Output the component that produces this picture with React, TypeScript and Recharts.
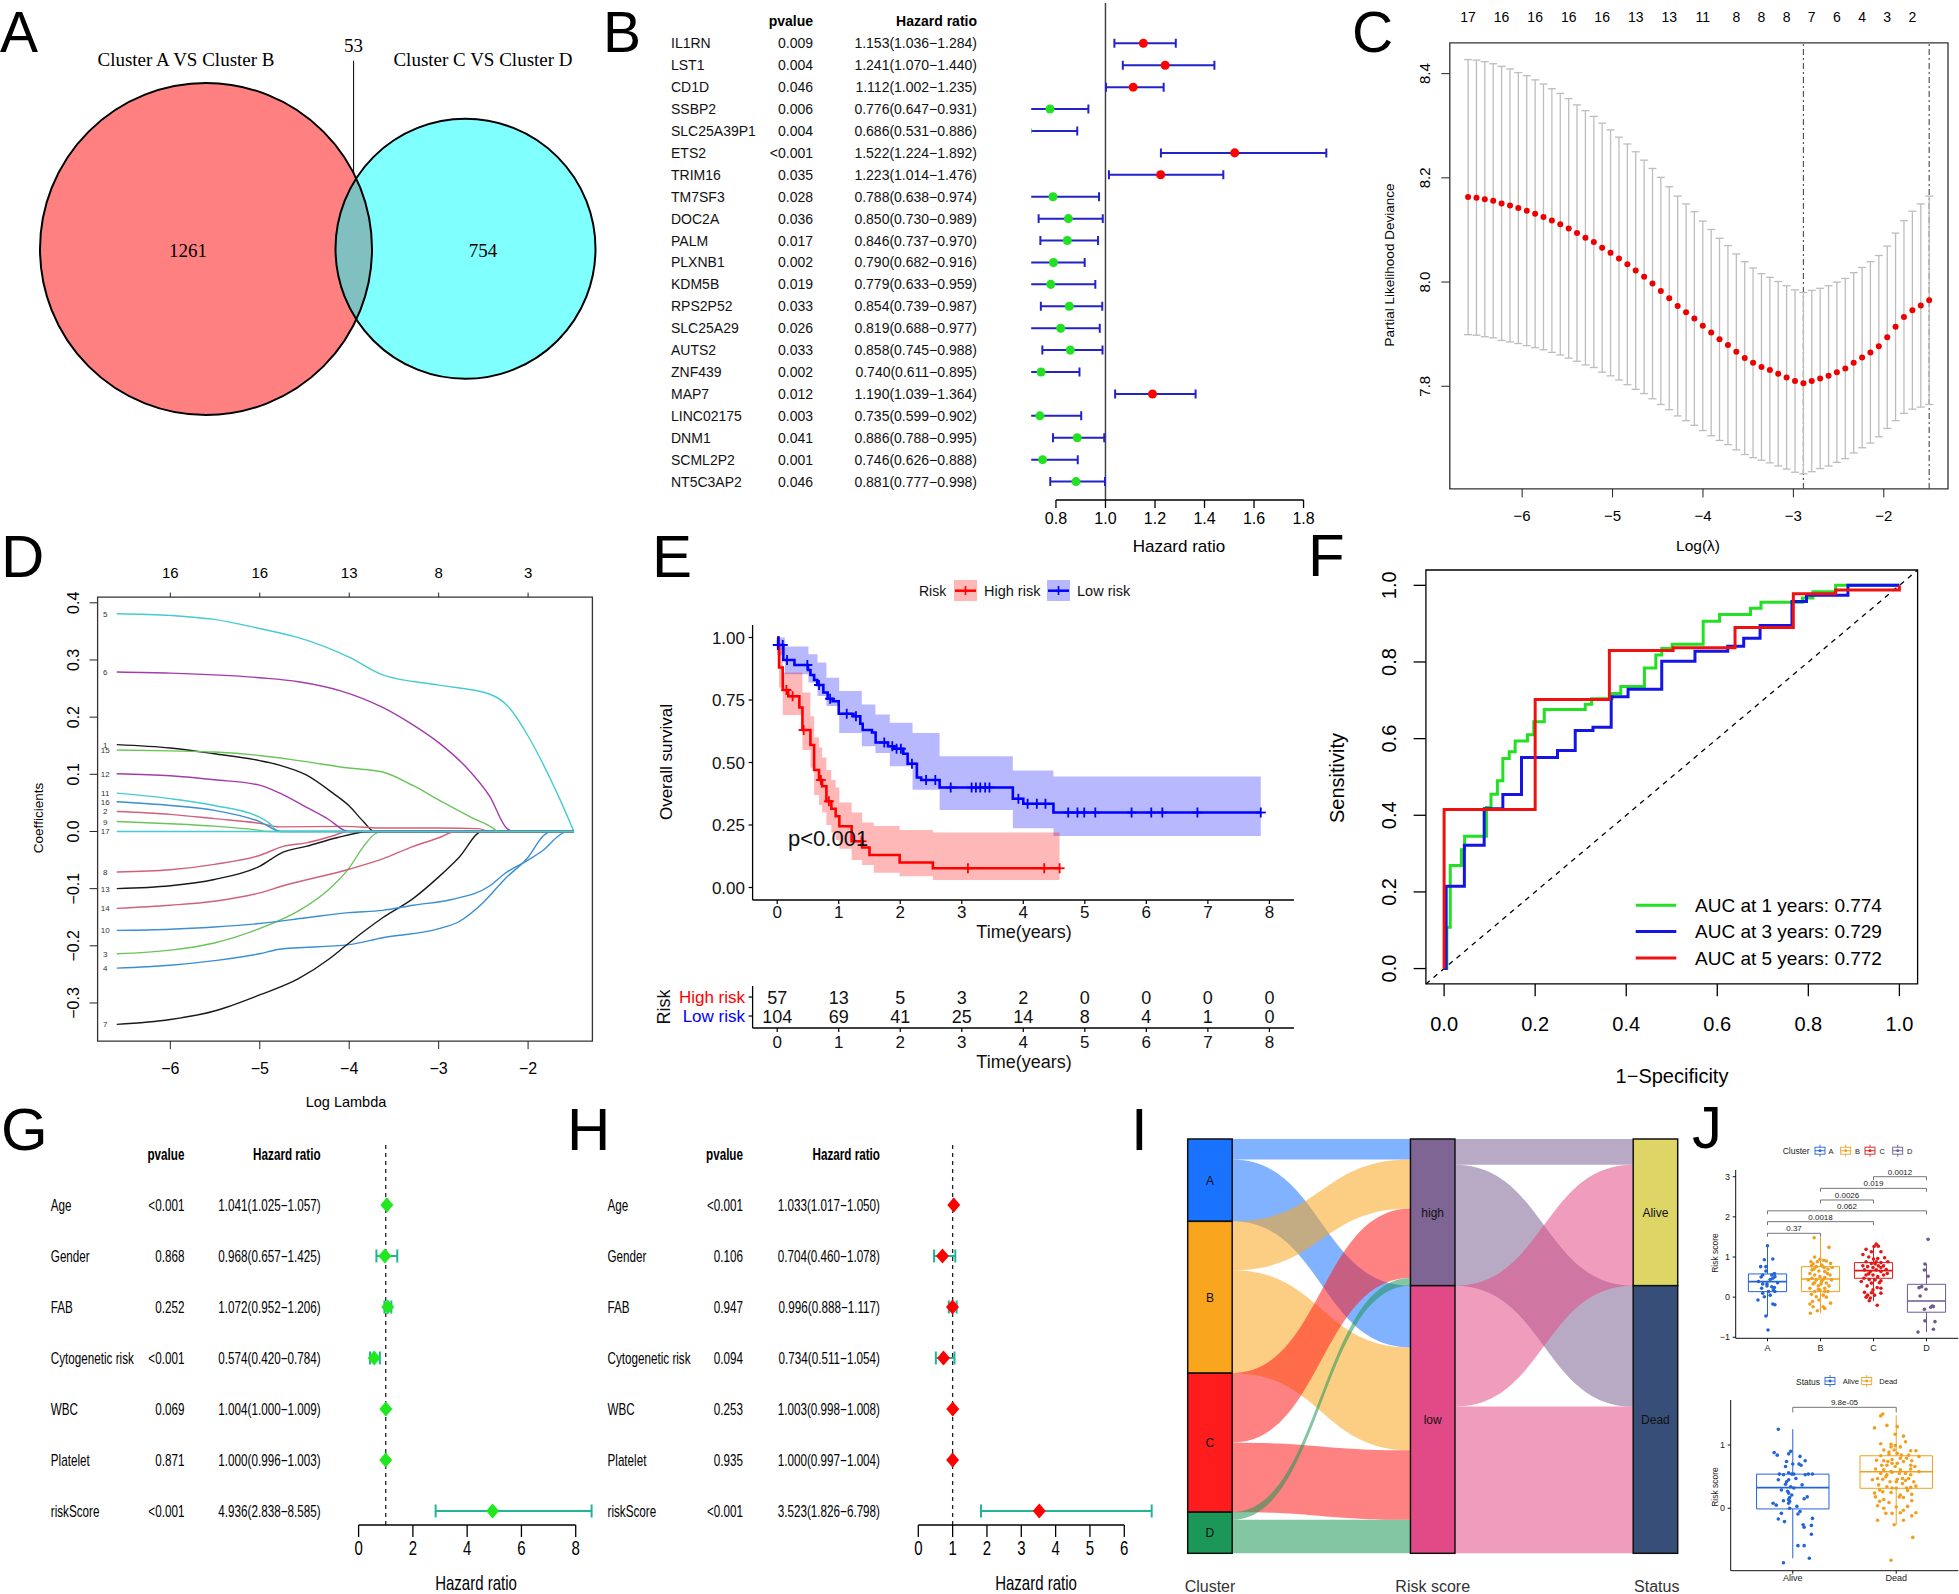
import React from 'react';
import {
  ScatterChart, Scatter, XAxis, YAxis, ReferenceLine, ReferenceArea, ErrorBar, Cell,
  ComposedChart, Line, Area, Sankey,
} from 'recharts';

const FONT = "'Liberation Sans', Arial, Helvetica, sans-serif";
const SERIF = "'Liberation Serif', 'Times New Roman', Times, serif";
const MINUS = '\u2212';

/* ======================= DATA ======================= */
// A - Venn
const vennSets = ['Cluster A VS Cluster B', 'Cluster C VS Cluster D'];
const vennOnly = [1261, 754];
const vennShared = 53;

// B - univariate Cox
const uniGenes = ['IL1RN','LST1','CD1D','SSBP2','SLC25A39P1','ETS2','TRIM16','TM7SF3','DOC2A','PALM','PLXNB1','KDM5B','RPS2P52','SLC25A29','AUTS2','ZNF439','MAP7','LINC02175','DNM1','SCML2P2','NT5C3AP2'];
const uniP = ['0.009','0.004','0.046','0.006','0.004','<0.001','0.035','0.028','0.036','0.017','0.002','0.019','0.033','0.026','0.033','0.002','0.012','0.003','0.041','0.001','0.046'];
const uniHR = [1.153,1.241,1.112,0.776,0.686,1.522,1.223,0.788,0.850,0.846,0.790,0.779,0.854,0.819,0.858,0.740,1.190,0.735,0.886,0.746,0.881];
const uniLow = [1.036,1.070,1.002,0.647,0.531,1.224,1.014,0.638,0.730,0.737,0.682,0.633,0.739,0.688,0.745,0.611,1.039,0.599,0.788,0.626,0.777];
const uniHigh = [1.284,1.440,1.235,0.931,0.886,1.892,1.476,0.974,0.989,0.970,0.916,0.959,0.987,0.977,0.988,0.895,1.364,0.902,0.995,0.888,0.998];
const uniTicks = [0.8, 1.0, 1.2, 1.4, 1.6, 1.8];

// C - cross-validation
const cvLogLambda = [-6.598,-6.505,-6.413,-6.320,-6.227,-6.134,-6.042,-5.949,-5.856,-5.764,-5.671,-5.578,-5.485,-5.393,-5.300,-5.207,-5.115,-5.022,-4.929,-4.836,-4.744,-4.651,-4.558,-4.466,-4.373,-4.280,-4.187,-4.095,-4.002,-3.909,-3.817,-3.724,-3.631,-3.538,-3.446,-3.353,-3.260,-3.168,-3.075,-2.982,-2.889,-2.797,-2.704,-2.611,-2.519,-2.426,-2.333,-2.240,-2.148,-2.055,-1.962,-1.870,-1.777,-1.684,-1.591,-1.498];
const cvMean = [8.163,8.162,8.159,8.156,8.151,8.147,8.142,8.137,8.131,8.125,8.118,8.111,8.103,8.094,8.085,8.077,8.066,8.056,8.045,8.034,8.022,8.010,7.997,7.983,7.969,7.954,7.942,7.930,7.916,7.903,7.890,7.879,7.866,7.854,7.845,7.837,7.831,7.824,7.817,7.810,7.806,7.810,7.815,7.820,7.827,7.834,7.845,7.855,7.865,7.877,7.894,7.914,7.933,7.946,7.955,7.965];
const cvSE = [0.264,0.264,0.264,0.263,0.263,0.262,0.260,0.259,0.257,0.255,0.253,0.251,0.249,0.246,0.244,0.241,0.239,0.236,0.233,0.231,0.228,0.224,0.221,0.218,0.214,0.211,0.208,0.205,0.201,0.198,0.194,0.191,0.188,0.185,0.182,0.179,0.178,0.177,0.176,0.175,0.174,0.174,0.173,0.173,0.173,0.173,0.173,0.173,0.174,0.174,0.175,0.180,0.185,0.190,0.195,0.200];
const cvNzeroAt = [-6.598,-6.227,-5.856,-5.485,-5.115,-4.744,-4.373,-4.002,-3.631,-3.353,-3.075,-2.797,-2.519,-2.240,-1.962,-1.684];
const cvNzero = [17,16,16,16,16,13,13,11,8,8,8,7,6,4,3,2];
const cvLambdaMin = -2.889;
const cvLambda1se = -1.498;

// D - coefficient paths
const coefTicks = [-6, -5, -4, -3, -2];
const coefTopTicks = [16, 16, 13, 8, 3];
const coefPaths = [
  [[-6.599,0.152],[-6.0,0.146],[-5.508,0.136],[-5.003,0.124],[-4.78,0.116],[-4.481,0.099],[-4.181,0.067],[-4.002,0.045],[-3.839,0.017],[-3.719,0],[-1.487,0]],
  [[-6.599,0.035],[-6.0,0.030],[-5.508,0.0224],[-5.003,0.0143],[-4.78,0.008],[-4.054,0.009],[-3.626,0.006],[-2.996,0.006],[-2.556,0.005],[-2.427,0],[-1.487,0]],
  [[-6.599,-0.214],[-6.0,-0.2075],[-5.508,-0.195],[-5.003,-0.17],[-4.567,-0.139],[-4.225,-0.101],[-4.002,-0.064],[-3.839,-0.026],[-3.711,-0.004],[-3.626,0],[-1.487,0]],
  [[-6.599,-0.239],[-6.0,-0.234],[-5.508,-0.226],[-5.003,-0.214],[-4.78,-0.206],[-4.002,-0.198],[-3.626,-0.186],[-2.996,-0.17],[-2.77,-0.1575],[-2.513,-0.126],[-2.256,-0.0825],[-2.0,-0.045],[-1.829,-0.0075],[-1.743,0],[-1.487,0]],
  [[-6.599,0.381],[-6.0,0.378],[-5.508,0.371],[-5.003,0.355],[-4.567,0.339],[-4.002,0.305],[-3.626,0.274],[-2.996,0.256],[-2.427,0.240],[-2.213,0.217],[-2.0,0.167],[-1.829,0.117],[-1.658,0.061],[-1.487,0]],
  [[-6.599,0.279],[-6.0,0.277],[-5.003,0.269],[-4.567,0.262],[-4.096,0.246],[-3.626,0.217],[-3.283,0.186],[-2.996,0.155],[-2.684,0.111],[-2.427,0.061],[-2.235,0.005],[-2.15,0],[-1.487,0]],
  [[-6.599,-0.3375],[-6.0,-0.329],[-5.508,-0.314],[-5.003,-0.286],[-4.567,-0.2575],[-4.225,-0.223],[-4.002,-0.195],[-3.626,-0.151],[-3.283,-0.117],[-2.996,-0.079],[-2.77,-0.045],[-2.513,0],[-1.487,0]],
  [[-6.599,-0.071],[-6.0,-0.067],[-5.508,-0.0575],[-5.003,-0.042],[-4.738,-0.026],[-4.481,-0.02],[-4.181,-0.0075],[-4.054,-0.001],[-4.002,0],[-1.487,0]],
  [[-6.599,0.0174],[-6.0,0.0136],[-5.508,0.0093],[-5.003,0.002],[-4.909,0],[-1.487,0]],
  [[-6.599,-0.173],[-6.0,-0.171],[-5.508,-0.167],[-5.003,-0.161],[-4.481,-0.151],[-4.002,-0.142],[-3.626,-0.138],[-3.283,-0.129],[-2.855,-0.119],[-2.427,-0.095],[-2.256,-0.073],[-2.0,-0.05],[-1.829,-0.0325],[-1.658,-0.0075],[-1.572,0],[-1.487,0]],
  [[-6.599,0.067],[-6.0,0.0574],[-5.508,0.0455],[-5.003,0.025],[-4.866,0.011],[-4.802,0],[-1.487,0]],
  [[-6.599,0.101],[-6.0,0.0974],[-5.508,0.0905],[-5.003,0.081],[-4.78,0.0674],[-4.481,0.0424],[-4.225,0.0205],[-4.054,0.002],[-4.002,0],[-1.487,0]],
  [[-6.599,-0.100],[-6.0,-0.095],[-5.508,-0.084],[-5.003,-0.061],[-4.738,-0.036],[-4.481,-0.026],[-4.139,-0.011],[-3.839,-0.001],[-3.719,0],[-1.487,0]],
  [[-6.599,-0.1345],[-6.0,-0.129],[-5.508,-0.122],[-5.003,-0.1075],[-4.738,-0.095],[-4.002,-0.066],[-3.626,-0.048],[-3.283,-0.026],[-2.996,-0.011],[-2.813,0],[-1.487,0]],
  [[-6.599,0.1425],[-6.0,0.141],[-5.508,0.139],[-5.003,0.133],[-4.567,0.124],[-4.002,0.111],[-3.626,0.104],[-3.283,0.080],[-2.996,0.055],[-2.641,0.025],[-2.385,0.005],[-2.342,0],[-1.487,0]],
  [[-6.599,0.052],[-6.0,0.0455],[-5.508,0.037],[-5.003,0.0174],[-4.759,0],[-1.487,0]],
  [[-6.599,0],[-1.487,0]],
];
const coefPalette = ['#1a1a1a', '#D35F7B', '#6BC45A', '#3A8ED2', '#45CBD3', '#A43BAA'];

// E - Kaplan-Meier
const kmHigh = [[0,1.0],[0.015,0.965],[0.03,0.88],[0.09,0.79],[0.18,0.765],[0.36,0.72],[0.41,0.63],[0.54,0.57],[0.60,0.47],[0.68,0.43],[0.73,0.405],[0.80,0.345],[0.88,0.315],[0.95,0.285],[1.01,0.245],[1.21,0.185],[1.38,0.16],[1.50,0.13],[1.99,0.10],[2.53,0.077],[4.59,0.077]];
const kmLow = [[0,1.0],[0.02,0.97],[0.10,0.91],[0.28,0.89],[0.50,0.87],[0.54,0.85],[0.60,0.83],[0.65,0.81],[0.75,0.78],[0.82,0.755],[0.90,0.745],[1.0,0.695],[1.24,0.685],[1.35,0.655],[1.39,0.63],[1.54,0.62],[1.60,0.58],[1.80,0.565],[1.90,0.555],[2.05,0.535],[2.12,0.495],[2.27,0.44],[2.34,0.43],[2.64,0.40],[3.83,0.355],[4.00,0.335],[4.49,0.30],[7.86,0.30]];
const kmHighCI = [[0,1,1],[0.015,0.92,1.0],[0.03,0.80,0.96],[0.09,0.69,0.86],[0.41,0.55,0.78],[0.54,0.48,0.685],[0.60,0.37,0.60],[0.68,0.33,0.56],[0.73,0.30,0.52],[0.80,0.25,0.47],[0.88,0.22,0.43],[0.95,0.19,0.40],[1.01,0.155,0.34],[1.21,0.11,0.30],[1.38,0.09,0.26],[1.57,0.059,0.246],[1.99,0.045,0.23],[2.53,0.03,0.22],[4.59,0.03,0.22]];
const kmLowCI = [[0,0.93,1.0],[0.125,0.853,0.964],[0.508,0.82,0.933],[0.655,0.766,0.90],[0.80,0.726,0.839],[1.008,0.618,0.786],[1.375,0.565,0.732],[1.596,0.538,0.692],[1.83,0.485,0.659],[2.20,0.391,0.618],[2.64,0.31,0.525],[3.83,0.237,0.468],[4.49,0.206,0.444],[7.86,0.206,0.444]];
const kmHighCens = [[0.15,0.79],[0.25,0.765],[0.43,0.63],[0.71,0.43],[0.84,0.345],[1.37,0.185],[3.10,0.077],[4.34,0.077],[4.59,0.077]];
const kmLowCens = [[0.01,0.97],[0.09,0.97],[0.16,0.91],[0.49,0.89],[0.68,0.81],[0.86,0.755],[1.13,0.695],[1.28,0.685],[1.74,0.58],[1.87,0.565],[1.94,0.555],[2.01,0.555],[2.19,0.495],[2.42,0.43],[2.57,0.43],[2.82,0.40],[3.16,0.40],[3.23,0.40],[3.30,0.40],[3.38,0.40],[3.45,0.40],[3.92,0.355],[4.07,0.335],[4.22,0.335],[4.36,0.335],[4.73,0.30],[4.88,0.30],[4.99,0.30],[5.17,0.30],[5.76,0.30],[6.08,0.30],[6.26,0.30],[6.83,0.30],[7.86,0.30]];
const riskGroups = ['High risk', 'Low risk'];
const riskTimes = [0,1,2,3,4,5,6,7,8];
const riskHigh = [57,13,5,3,2,0,0,0,0];
const riskLow = [104,69,41,25,14,8,4,1,0];

// F - ROC
const roc1 = [[0,0],[0.006,0.108],[0.0135,0.269],[0.038,0.31],[0.045,0.345],[0.093,0.42],[0.103,0.455],[0.117,0.49],[0.129,0.548],[0.143,0.566],[0.156,0.594],[0.183,0.61],[0.197,0.644],[0.22,0.676],[0.31,0.69],[0.324,0.704],[0.369,0.718],[0.388,0.736],[0.44,0.784],[0.465,0.818],[0.478,0.835],[0.501,0.846],[0.569,0.906],[0.605,0.924],[0.673,0.94],[0.696,0.956],[0.787,0.967],[0.81,0.983],[0.86,1.0],[1.0,1.0]];
const roc3 = [[0,0],[0.0045,0.215],[0.0445,0.322],[0.088,0.417],[0.129,0.454],[0.170,0.551],[0.249,0.569],[0.288,0.621],[0.327,0.63],[0.367,0.709],[0.404,0.729],[0.478,0.802],[0.551,0.828],[0.623,0.841],[0.658,0.862],[0.694,0.895],[0.764,0.958],[0.796,0.974],[0.887,1.0],[1.0,1.0]];
const roc5 = [[0,0],[0,0.415],[0.2,0.702],[0.363,0.83],[0.503,0.837],[0.639,0.89],[0.767,0.978],[0.86,0.988],[1.0,1.0]];
const rocLabels = ['AUC at 1 years: 0.774', 'AUC at 3 years: 0.729', 'AUC at 5 years: 0.772'];
const rocColors = ['#22E022', '#1414E6', '#EE1111'];

// G / H - multivariable
const multiVars = ['Age', 'Gender', 'FAB', 'Cytogenetic risk', 'WBC', 'Platelet', 'riskScore'];
const gP = ['<0.001','0.868','0.252','<0.001','0.069','0.871','<0.001'];
const gHR = [1.041,0.968,1.072,0.574,1.004,1.000,4.936];
const gLow = [1.025,0.657,0.952,0.420,1.000,0.996,2.838];
const gHigh = [1.057,1.425,1.206,0.784,1.009,1.003,8.585];
const hP = ['<0.001','0.106','0.947','0.094','0.253','0.935','<0.001'];
const hHR = [1.033,0.704,0.996,0.734,1.003,1.000,3.523];
const hLow = [1.017,0.460,0.888,0.511,0.998,0.997,1.826];
const hHigh = [1.050,1.078,1.117,1.054,1.008,1.004,6.798];

// I - Sankey
const sankeyNodes = ['A', 'B', 'C', 'D', 'high', 'low', 'Alive', 'Dead'];
const linkSource = [0, 0, 1, 1, 2, 2, 3, 3, 4, 4, 5, 5];
const linkTarget = [4, 5, 4, 5, 4, 5, 4, 5, 6, 7, 6, 7];
const linkValue = [8, 24, 19, 40, 27, 27, 3, 13, 10, 47, 47, 57];
const sankeyColors: any = { A: '#1A73FF', B: '#F9A51E', C: '#FF1C1C', D: '#1B9858', high: '#7E6594', low: '#E14A87', Alive: '#DDD566', Dead: '#374F78' };
const sankeyAxes = ['Cluster', 'Risk score', 'Status'];

// J - boxplots
const clusterGroups = ['A', 'B', 'C', 'D'];
const clusterColors = ['#2464D6', '#EFA020', '#E01818', '#6D5A93'];
const clusterMin = [-0.47, -0.40, -0.10, -0.87];
const clusterQ1 = [0.137, 0.137, 0.47, -0.375];
const clusterMed = [0.386, 0.453, 0.66, -0.095];
const clusterQ3 = [0.578, 0.76, 0.86, 0.32];
const clusterMax = [1.28, 1.49, 1.30, 0.83];
const jitterA = [[0,1.28],[.10,.95],[-.06,.93],[-.13,.76],[-.03,.76],[-.03,.65],[.08,.55],[-.09,.55],[-.12,.50],[.14,.51],[.10,.47],[.13,.59],[.05,.44],[-.17,.39],[-.09,.33],[-.01,.28],[.08,.26],[.19,.36],[.13,.24],[-.11,.22],[.11,.18],[.02,.14],[.14,.14],[-.06,.01],[-.18,-.07],[-.09,.10],[.14,-.19],[.10,-.17],[-.03,-.47],[.01,-.82],[.05,.05],[-.01,.33]];
const jitterB = [[-.12,1.48],[.16,1.24],[-.11,1.0],[-.18,.88],[.06,.92],[-.01,.94],[.11,.90],[.19,.84],[-.17,.78],[-.08,.76],[.02,.80],[.07,.74],[-.12,.70],[.14,.70],[-.03,.65],[.08,.64],[-.20,.59],[-.11,.55],[.18,.55],[-.01,.51],[.08,.49],[-.16,.47],[-.08,.43],[.21,.43],[.02,.39],[.11,.35],[-.14,.33],[-.04,.28],[-.20,.22],[.08,.22],[-.01,.18],[-.11,.14],[.14,.14],[-.17,.07],[.05,.05],[-.08,.01],[.11,0],[-.03,-.07],[-.15,-.11],[.19,-.15],[-.20,-.17],[.05,-.24],[.08,-.28],[-.19,-.40],[-.06,-.34],[-.14,-.24],[.03,.78],[-.06,.88],[-.16,.68],[.13,.59],[.05,.44],[-.11,.36],[.16,.28],[-.23,.43],[.01,.33],[.22,.74],[-.14,.83],[.08,.14],[-.04,.19]];
const jitterC = [[.05,1.32],[.09,1.27],[.01,1.26],[-.14,1.19],[-.04,1.13],[.14,1.13],[-.20,1.06],[-.09,1.0],[0,.95],[.08,.96],[.21,.98],[-.14,.88],[-.04,.84],[.05,.88],[.14,.86],[.27,.88],[-.20,.78],[-.11,.76],[-.01,.74],[.09,.78],[.19,.78],[-.17,.68],[-.06,.64],[.05,.68],[.14,.64],[.24,.69],[-.14,.55],[-.01,.55],[.08,.51],[.19,.55],[-.18,.47],[-.08,.44],[.03,.43],[.14,.41],[-.04,.35],[-.12,.28],[.07,.24],[.14,.22],[-.01,.18],[-.17,.12],[-.04,.11],[.14,.10],[-.11,.05],[.02,.05],[-.06,-.02],[-.08,-.09],[.07,-.20],[-.14,0],[.11,.36],[-.09,.58],[.03,.83],[.26,.59],[-.23,.39],[.14,.74]];
const jitterD = [[.03,1.44],[-.03,.827],[-.04,.677],[.03,.52],[-.09,.262],[-.14,.237],[-.01,.196],[-.12,.03],[.13,-.236],[-.04,-.30],[.08,-.25],[.11,-.22],[-.03,-.59],[.16,-.61],[.13,-.80],[-.16,-.87]];
const clusterBracketPairs = [[1,2],[1,3],[1,4],[2,3],[2,4],[3,4]];
const clusterBracketY = [1.59, 1.88, 2.15, 2.42, 2.71, 3.0];
const clusterBracketP = ['0.37', '0.0018', '0.062', '0.0026', '0.019', '0.0012'];

const statusGroups = ['Alive', 'Dead'];
const statusColors = ['#2464D6', '#EFA020'];
const statusMin = [-0.79, -0.26];
const statusQ1 = [-0.01, 0.316];
const statusMed = [0.326, 0.578];
const statusQ3 = [0.54, 0.83];
const statusMax = [1.25, 1.47];
const jitterAlive = [[-.14,1.25],[-.18,.88],[-.15,.84],[-.04,.86],[-.02,.90],[.12,.75],[0,.70],[.06,.70],[.08,.68],[-.07,.66],[-.04,.56],[-.13,.54],[-.09,.53],[-.01,.54],[.01,.54],[.12,.53],[.19,.54],[.15,.54],[-.04,.45],[-.06,.42],[-.07,.38],[-.02,.34],[.01,.32],[-.05,.27],[-.04,.24],[-.01,.21],[-.03,.17],[-.09,.12],[-.04,.14],[.11,.15],[-.03,.11],[-.19,.08],[-.16,.05],[-.04,.08],[-.03,0],[.07,-.05],[.05,-.09],[-.14,-.17],[-.08,-.21],[.19,-.16],[.10,-.26],[.11,-.30],[.18,-.27],[.18,-.41],[.05,-.59],[.11,-.59],[.16,-.79],[-.09,-.86],[.03,.47],[-.11,.29],[.09,.37],[-.06,.74],[.04,.03],[-.11,-.08],[.14,.18],[-.14,.45],[.07,.82]];
const jitterDead = [[-.13,1.49],[-.15,1.46],[-.09,1.31],[-.21,1.27],[.01,1.29],[-.01,1.17],[.07,1.14],[-.15,1.02],[-.05,1.01],[-.01,.99],[.04,.97],[.09,1.05],[-.12,.92],[-.07,.89],[.14,.91],[.19,.91],[.01,.87],[.05,.84],[.12,.84],[-.07,.85],[-.19,.76],[-.12,.75],[-.04,.77],[.10,.79],[.15,.75],[-.14,.68],[.01,.71],[.14,.68],[.07,.74],[-.20,.62],[-.12,.61],[-.05,.58],[.04,.61],[.14,.62],[-.09,.53],[-.15,.55],[-.04,.57],[.09,.55],[-.18,.47],[-.13,.46],[.01,.46],[.09,.44],[.17,.42],[-.06,.42],[.06,.39],[-.17,.37],[-.09,.34],[-.04,.32],[0,.32],[.14,.33],[.19,.35],[-.13,.26],[-.05,.25],[-.21,.24],[.04,.21],[.15,.22],[.07,.17],[-.12,.14],[-.16,.11],[.15,.12],[-.18,.04],[0,.02],[.11,.03],[-.04,-.08],[.04,-.07],[.19,-.07],[.15,-.12],[-.10,-.08],[-.18,-.19],[.07,-.19],[-.02,-.26],[.16,-.46],[-.05,-.82],[-.09,.68],[.03,.55],[.12,.47],[-.10,.50],[-.02,.92],[.04,.79],[-.16,.29],[.11,.28],[-.07,.09],[.07,-.03],[-.01,.66],[-.15,.83],[.22,.82],[.22,.58],[-.23,.45],[-.04,.71],[.10,.32],[-.12,0],[.03,.18],[.14,.53],[-.08,.74],[.06,.47],[-.20,.18],[.18,.66],[0,.42],[-.05,.97]];
const statusBracketY = 1.595;
const statusBracketP = '9.8e-05';

/* ======================= HELPERS ======================= */
const f3 = (v: number) => v.toFixed(3);
const hrText = (h: number, l: number, u: number) => `${f3(h)}(${f3(l)}${MINUS}${f3(u)})`;
const mfmt = (v: any) => String(v).replace('-', MINUS);
const noShape = () => <g />;

function NText({ x, y, anchor = 'start', size = 16, sx = 0.73, bold = false, fill = '#000', children }: any) {
  return (
    <text transform={`translate(${x},${y}) scale(${sx},1)`} textAnchor={anchor} fontSize={size}
      fontWeight={bold ? 'bold' : 'normal'} fontFamily={FONT} fill={fill}>{children}</text>
  );
}
function VText({ x, y, size, fill = '#000', family = FONT, children }: any) {
  return (
    <text transform={`translate(${x},${y}) rotate(-90)`} textAnchor="middle" fontSize={size} fontFamily={family} fill={fill}>{children}</text>
  );
}

/* ======================= A ======================= */
const vennLayout = [
  { x: 206, y: 249, r: 166, fill: '#FF8080' },
  { x: 465.5, y: 248.8, r: 130, fill: '#80FFFF' },
];
const vennTextLayout = [{ x: 188, y: 256.5 }, { x: 483, y: 256.5 }, { x: 353.6, y: 52.4 }];

function PanelA() {
  const circles = vennLayout.map((c, i) => ({ ...c, id: i, name: vennSets[i] }));
  const texts = [vennOnly[0], vennOnly[1], vennShared].map((t, i) => ({ ...vennTextLayout[i], t: String(t) }));
  return (
    <ScatterChart width={650} height={530} margin={{ top: 0, right: 0, bottom: 0, left: 0 }}>
      <XAxis type="number" dataKey="x" domain={[0, 650]} hide />
      <YAxis type="number" dataKey="y" domain={[0, 530]} hide reversed />
      <Scatter data={circles} isAnimationActive={false} shape={(p: any) => (
        <g>
          {p.payload.id === 0 ? (<defs><clipPath id="vennClipLeft"><circle cx={p.cx} cy={p.cy} r={p.payload.r} /></clipPath></defs>) : null}
          <circle cx={p.cx} cy={p.cy} r={p.payload.r} fill={p.payload.fill} />
        </g>
      )} />
      <Scatter data={[circles[1]]} isAnimationActive={false} shape={(p: any) => (
        <circle cx={p.cx} cy={p.cy} r={p.payload.r} fill="#80C0C0" clipPath="url(#vennClipLeft)" />
      )} />
      <Scatter data={circles} isAnimationActive={false} shape={(p: any) => (
        <circle cx={p.cx} cy={p.cy} r={p.payload.r} fill="none" stroke="#000" strokeWidth={2} />
      )} />
      <ReferenceLine segment={[{ x: 353.6, y: 60.8 }, { x: 353.6, y: 250 }]} stroke="#000" strokeWidth={1} />
      <Scatter data={texts} isAnimationActive={false} shape={(p: any) => (
        <text x={p.cx} y={p.cy} textAnchor="middle" fontFamily={SERIF} fontSize={19} fill="#000">{p.payload.t}</text>
      )} />
    </ScatterChart>
  );
}

/* ======================= B ======================= */
function PanelB() {
  const dots = uniGenes.map((g, i) => ({ x: uniHR[i], y: i }));
  const cap = 0.205;
  const yTick = (p: any) => {
    const v = p.payload.value; const y = p.y + 5;
    if (v < 0) {
      return (
        <g fontFamily={FONT} fontSize={14} fontWeight="bold" fill="#000">
          <text x={173} y={y} textAnchor="end">pvalue</text>
          <text x={337} y={y} textAnchor="end">Hazard ratio</text>
        </g>
      );
    }
    return (
      <g fontFamily={FONT} fontSize={14} fill="#111">
        <text x={31} y={y}>{uniGenes[v]}</text>
        <text x={173} y={y} textAnchor="end">{uniP[v]}</text>
        <text x={337} y={y} textAnchor="end">{hrText(uniHR[v], uniLow[v], uniHigh[v])}</text>
      </g>
    );
  };
  return (
    <ComposedChart width={700} height={560} margin={{ top: 3, right: 11.7, bottom: 0, left: 0 }}>
      <XAxis type="number" dataKey="x" domain={[0.7, 1.9]} allowDataOverflow ticks={uniTicks} interval={0} height={60}
        axisLine={false} tickSize={8} tickLine={{ stroke: '#000', strokeWidth: 1.3 }}
        tick={(p: any) => <text x={p.x} y={524} textAnchor="middle" fontSize={16} fontFamily={FONT} fill="#000">{p.payload.value.toFixed(1)}</text>} />
      <YAxis type="number" dataKey="y" domain={[-1.84, 20.84]} reversed allowDataOverflow
        ticks={[-1, 0, 1, 2, 3, 4, 5, 6, 7, 8, 9, 10, 11, 12, 13, 14, 15, 16, 17, 18, 19, 20]} interval={0}
        width={391.2} axisLine={false} tickLine={false} tick={yTick} />
      <ReferenceLine x={1} stroke="#444" strokeWidth={1.5} />
      <ReferenceLine segment={[{ x: 0.8, y: 20.84 }, { x: 1.8, y: 20.84 }]} stroke="#000" strokeWidth={1.3} ifOverflow="visible" />
      {uniGenes.map((g, i) => (
        <Line key={g} data={[
          { x: uniLow[i], y: i - cap }, { x: uniLow[i], y: i + cap }, { x: uniLow[i], y: i },
          { x: uniHigh[i], y: i }, { x: uniHigh[i], y: i - cap }, { x: uniHigh[i], y: i + cap },
        ]} dataKey="y" type="linear" stroke="#2323C8" strokeWidth={2} dot={false} isAnimationActive={false} />
      ))}
      <Scatter data={dots} dataKey="y" isAnimationActive={false}>
        {dots.map((d, i) => <Cell key={i} fill={d.x > 1 ? '#FF0000' : '#22E022'} />)}
      </Scatter>
    </ComposedChart>
  );
}

/* ======================= C ======================= */
function PanelC() {
  const pts = cvLogLambda.map((x, i) => ({ x, y: cvMean[i], se: cvSE[i] }));
  const anchors = cvNzeroAt.map((x) => ({ x, y: 8.0 }));
  const domX = [-6.80, -1.29];
  const domY = [7.603, 8.459];
  return (
    <ComposedChart width={619} height={560} margin={{ top: 0, right: 11, bottom: 0, left: 0 }}>
      <XAxis xAxisId="top" orientation="top" type="number" dataKey="x" domain={domX} allowDataOverflow ticks={cvNzeroAt} interval={0}
        height={42.9} axisLine={false} tickLine={false}
        tick={(p: any) => <text x={p.x} y={22.4} textAnchor="middle" fontSize={14} fontFamily={FONT} fill="#000">{cvNzero[p.index]}</text>} />
      <XAxis xAxisId="bot" type="number" dataKey="x" domain={domX} allowDataOverflow ticks={[-6, -5, -4, -3, -2]} interval={0}
        height={71.1} axisLine={false} tickSize={8.5} tickLine={{ stroke: '#222' }}
        tick={(p: any) => <text x={p.x} y={521} textAnchor="middle" fontSize={15} fontFamily={FONT} fill="#000">{mfmt(p.payload.value)}</text>} />
      <YAxis type="number" dataKey="y" domain={domY} allowDataOverflow ticks={[7.8, 8.0, 8.2, 8.4]} interval={0} width={109.8}
        axisLine={false} tickSize={8.5} tickLine={{ stroke: '#222' }}
        tick={(p: any) => <VText x={90.4} y={p.y} size={15}>{p.payload.value.toFixed(1)}</VText>} />
      <ReferenceArea xAxisId="bot" x1={domX[0]} x2={domX[1]} y1={domY[0]} y2={domY[1]} fill="none" stroke="#333" strokeWidth={1.3} ifOverflow="visible" />
      <ReferenceLine xAxisId="bot" x={cvLambdaMin} stroke="#555" strokeWidth={1.2} strokeDasharray="6 3 2 3" />
      <ReferenceLine xAxisId="bot" x={cvLambda1se} stroke="#555" strokeWidth={1.2} strokeDasharray="6 3 2 3" />
      <Scatter xAxisId="top" data={anchors} dataKey="y" isAnimationActive={false} shape={noShape} />
      <Scatter xAxisId="bot" data={pts} dataKey="y" isAnimationActive={false}
        shape={(p: any) => <circle cx={p.cx} cy={p.cy} r={3} fill="#EE0000" />}>
        <ErrorBar dataKey="se" direction="y" width={4} stroke="#BDBDBD" strokeWidth={1.3} />
      </Scatter>
    </ComposedChart>
  );
}

/* ======================= D ======================= */
function PanelD() {
  const domX = [-6.813, -1.281];
  const domY = [-0.3667, 0.41];
  const labels = coefPaths.map((pts, k) => ({ x: pts[0][0], y: pts[0][1], t: String(k + 1) }));
  const anchors = coefTicks.map((x) => ({ x, y: 0 }));
  return (
    <ComposedChart width={600} height={570} margin={{ top: 0, right: 7.6, bottom: 0, left: 0 }}>
      <XAxis xAxisId="top" orientation="top" type="number" dataKey="x" domain={domX} allowDataOverflow ticks={coefTicks} interval={0}
        height={57.1} axisLine={false} tickSize={4.5} tickLine={{ stroke: '#222' }}
        tick={(p: any) => <text x={p.x} y={37.5} textAnchor="middle" fontSize={15} fontFamily={FONT} fill="#000">{coefTopTicks[p.index]}</text>} />
      <XAxis xAxisId="bot" type="number" dataKey="x" domain={domX} allowDataOverflow ticks={coefTicks} interval={0}
        height={68.9} axisLine={false} tickSize={8} tickLine={{ stroke: '#222' }}
        tick={(p: any) => <text x={p.x} y={533.5} textAnchor="middle" fontSize={16} fontFamily={FONT} fill="#000">{mfmt(p.payload.value)}</text>} />
      <YAxis type="number" dataKey="y" domain={domY} allowDataOverflow ticks={[-0.3, -0.2, -0.1, 0, 0.1, 0.2, 0.3, 0.4]} interval={0}
        width={97.6} axisLine={false} tickSize={8} tickLine={{ stroke: '#222' }}
        tick={(p: any) => <VText x={78.5} y={p.y} size={16}>{mfmt(p.payload.value.toFixed(1))}</VText>} />
      <ReferenceArea xAxisId="bot" x1={domX[0]} x2={domX[1]} y1={domY[0]} y2={domY[1]} fill="none" stroke="#333" strokeWidth={1.3} ifOverflow="visible" />
      <Scatter xAxisId="top" data={anchors} dataKey="y" isAnimationActive={false} shape={noShape} />
      {coefPaths.map((pts, k) => (
        <Line key={k} xAxisId="bot" data={pts.map(([x, y]) => ({ x, y }))} dataKey="y" type="monotone"
          stroke={coefPalette[k % 6]} strokeWidth={1.4} dot={false} isAnimationActive={false} />
      ))}
      <Scatter xAxisId="bot" data={labels} dataKey="y" isAnimationActive={false}
        shape={(p: any) => <text x={p.cx - 11.5} y={p.cy + 3} textAnchor="middle" fontSize={8} fontFamily={FONT} fill="#333">{p.payload.t}</text>} />
    </ComposedChart>
  );
}

/* ======================= E ======================= */
function cross(color: string) {
  return (p: any) => (
    <g stroke={color} strokeWidth={1.8}>
      <line x1={p.cx - 5} x2={p.cx + 5} y1={p.cy} y2={p.cy} />
      <line x1={p.cx} x2={p.cx} y1={p.cy - 5} y2={p.cy + 5} />
    </g>
  );
}
function PanelEMain() {
  const hiLine = kmHigh.map(([t, s]) => ({ t, s }));
  const loLine = kmLow.map(([t, s]) => ({ t, s }));
  const hiRib = kmHighCI.map(([t, l, h]) => ({ t, ci: [l, h] }));
  const loRib = kmLowCI.map(([t, l, h]) => ({ t, ci: [l, h] }));
  const hiC = kmHighCens.map(([t, s]) => ({ t, s }));
  const loC = kmLowCens.map(([t, s]) => ({ t, s }));
  return (
    <ComposedChart width={710} height={400} margin={{ top: 65, right: 16, bottom: 0, left: 0 }}>
      <XAxis type="number" dataKey="t" domain={[-0.4, 8.4]} allowDataOverflow ticks={riskTimes} interval={0} height={60}
        tickSize={4} axisLine={{ stroke: '#000', strokeWidth: 1.3 }} tickLine={{ stroke: '#000', strokeWidth: 1.2 }}
        tick={(p: any) => <text x={p.x} y={358} textAnchor="middle" fontSize={17} fontFamily={FONT} fill="#111">{p.payload.value}</text>} />
      <YAxis type="number" domain={[-0.05, 1.05]} allowDataOverflow ticks={[0, 0.25, 0.5, 0.75, 1]} interval={0} width={152.6}
        tickSize={4} axisLine={{ stroke: '#000', strokeWidth: 1.3 }} tickLine={{ stroke: '#000', strokeWidth: 1.2 }}
        tick={(p: any) => <text x={145} y={p.y + 6} textAnchor="end" fontSize={17} fontFamily={FONT} fill="#111">{p.payload.value.toFixed(2)}</text>} />
      <Area data={loRib} dataKey="ci" type="stepAfter" fill="#0000FF" fillOpacity={0.28} stroke="none" isAnimationActive={false} />
      <Area data={hiRib} dataKey="ci" type="stepAfter" fill="#FF0000" fillOpacity={0.28} stroke="none" isAnimationActive={false} />
      <Line data={hiLine} dataKey="s" type="stepAfter" stroke="#FF0000" strokeWidth={2.6} dot={false} isAnimationActive={false} />
      <Line data={loLine} dataKey="s" type="stepAfter" stroke="#0000FF" strokeWidth={2.6} dot={false} isAnimationActive={false} />
      <Scatter data={hiC} dataKey="s" isAnimationActive={false} shape={cross('#FF0000')} />
      <Scatter data={loC} dataKey="s" isAnimationActive={false} shape={cross('#0000FF')} />
    </ComposedChart>
  );
}
function PanelERisk() {
  const cells = riskTimes.flatMap((t, i) => [
    { t, row: 0, n: riskHigh[i] },
    { t, row: 1, n: riskLow[i] },
  ]);
  return (
    <ComposedChart width={710} height={110} margin={{ top: 11, right: 16, bottom: 0, left: 0 }}>
      <XAxis type="number" dataKey="t" domain={[-0.4, 8.4]} allowDataOverflow ticks={riskTimes} interval={0} height={57}
        tickSize={4} axisLine={{ stroke: '#000', strokeWidth: 1.3 }} tickLine={{ stroke: '#000', strokeWidth: 1.2 }}
        tick={(p: any) => <text x={p.x} y={72.7} textAnchor="middle" fontSize={17} fontFamily={FONT} fill="#111">{p.payload.value}</text>} />
      <YAxis type="number" dataKey="row" domain={[-0.58, 1.63]} reversed allowDataOverflow ticks={[0, 1]} interval={0} width={152.6}
        tickSize={4} axisLine={{ stroke: '#000', strokeWidth: 1.3 }} tickLine={{ stroke: '#000', strokeWidth: 1.2 }}
        tick={(p: any) => <text x={145} y={p.y + 6} textAnchor="end" fontSize={17} fontFamily={FONT} fill={p.payload.value === 0 ? '#FF0000' : '#0000FF'}>{riskGroups[p.payload.value]}</text>} />
      <Scatter data={cells} isAnimationActive={false}
        shape={(p: any) => <text x={p.cx} y={p.cy + 6.5} textAnchor="middle" fontSize={18} fontFamily={FONT} fill="#111">{p.payload.n}</text>} />
    </ComposedChart>
  );
}

/* ======================= F ======================= */
function PanelF() {
  const curves = [roc1, roc3, roc5].map((c) => c.map(([x, y]) => ({ x, y })));
  const ticks = [0, 0.2, 0.4, 0.6, 0.8, 1.0];
  return (
    <ComposedChart width={649} height={550} margin={{ top: 20, right: 41.4, bottom: 0, left: 0 }}>
      <XAxis type="number" dataKey="x" domain={[-0.04, 1.04]} allowDataOverflow ticks={ticks} interval={0} height={116.1}
        axisLine={false} tickSize={12.3} tickLine={{ stroke: '#000', strokeWidth: 1.3 }}
        tick={(p: any) => <text x={p.x} y={481.4} textAnchor="middle" fontSize={20} fontFamily={FONT} fill="#000">{p.payload.value.toFixed(1)}</text>} />
      <YAxis type="number" domain={[-0.04, 1.04]} allowDataOverflow ticks={ticks} interval={0} width={115.9}
        axisLine={false} tickSize={12.3} tickLine={{ stroke: '#000', strokeWidth: 1.3 }}
        tick={(p: any) => <VText x={85.6} y={p.y} size={20}>{p.payload.value.toFixed(1)}</VText>} />
      <ReferenceArea x1={-0.04} x2={1.04} y1={-0.04} y2={1.04} fill="none" stroke="#000" strokeWidth={1.3} ifOverflow="visible" />
      <ReferenceLine segment={[{ x: -0.04, y: -0.04 }, { x: 1.04, y: 1.04 }]} stroke="#000" strokeWidth={1.3} strokeDasharray="5 5" ifOverflow="visible" />
      {curves.map((c, i) => (
        <Line key={i} data={c} dataKey="y" type="stepAfter" stroke={rocColors[i]} strokeWidth={3} dot={false} isAnimationActive={false} />
      ))}
    </ComposedChart>
  );
}

/* ======================= G / H ======================= */
function MultiForest({ p, hr, lo, hi, color, width, yAxisW, domMax, pxPerUnit, ticks, cols }: any) {
  const rows = multiVars.map((v, i) => ({ row: i, hr: hr[i], err: [hr[i] - lo[i], hi[i] - hr[i]] }));
  const yTick = (t: any) => {
    const v = t.payload.value; const y = t.y + 6;
    if (v < 0) {
      return (
        <g>
          <NText x={cols[1]} y={y} anchor="end" bold>pvalue</NText>
          <NText x={cols[2]} y={y} anchor="end" bold>Hazard ratio</NText>
        </g>
      );
    }
    return (
      <g>
        <NText x={cols[0]} y={y}>{multiVars[v]}</NText>
        <NText x={cols[1]} y={y} anchor="end">{p[v]}</NText>
        <NText x={cols[2]} y={y} anchor="end">{hrText(hr[v], lo[v], hi[v])}</NText>
      </g>
    );
  };
  const plotW = domMax * pxPerUnit;
  const diamond = (s: any) => (
    <polygon points={`${s.cx},${s.cy - 7.5} ${s.cx + 6.5},${s.cy} ${s.cx},${s.cy + 7.5} ${s.cx - 6.5},${s.cy}`} fill={color} />
  );
  return (
    <ScatterChart width={width} height={494} margin={{ top: 41.7, right: width - yAxisW - plotW, bottom: 0, left: 0 }}>
      <XAxis type="number" dataKey="hr" domain={[0, domMax]} allowDataOverflow ticks={ticks} interval={0} height={69}
        axisLine={false} tickSize={12} tickLine={{ stroke: '#000', strokeWidth: 1.3 }}
        tick={(t: any) => <NText x={t.x} y={455} anchor="middle" size={20} sx={0.75}>{t.payload.value}</NText>} />
      <YAxis type="number" dataKey="row" domain={[-1.241, 6.275]} reversed allowDataOverflow ticks={[-1, 0, 1, 2, 3, 4, 5, 6]} interval={0}
        width={yAxisW} axisLine={false} tickLine={false} tick={yTick} />
      <ReferenceLine x={1} stroke="#222" strokeWidth={1.3} strokeDasharray="4 4" />
      <ReferenceLine segment={[{ x: 0, y: 6.275 }, { x: ticks[ticks.length - 1], y: 6.275 }]} stroke="#000" strokeWidth={1.3} ifOverflow="visible" />
      <Scatter data={rows} isAnimationActive={false} shape={diamond}>
        <ErrorBar dataKey="err" direction="x" width={6.5} stroke="#22B49A" strokeWidth={2} />
      </Scatter>
    </ScatterChart>
  );
}

/* ======================= I ======================= */
function PanelI() {
  const data = {
    nodes: sankeyNodes.map((name) => ({ name })),
    links: linkSource.map((s, i) => ({ source: s, target: linkTarget[i], value: linkValue[i] })),
  };
  const node = (p: any) => {
    const name = p.payload.name;
    return (
      <g>
        <rect x={p.x} y={p.y} width={p.width} height={p.height} fill={sankeyColors[name]} stroke="#111" strokeWidth={1.5} />
        <text x={p.x + p.width / 2} y={p.y + p.height / 2 + 4.5} textAnchor="middle" fontSize={12} fontFamily={FONT} fill="#111">{name}</text>
      </g>
    );
  };
  const link = (p: any) => {
    const h = p.linkWidth / 2;
    const sx = p.sourceX, tx = p.targetX, sy = p.sourceY, ty = p.targetY, c1 = p.sourceControlX, c2 = p.targetControlX;
    const d = `M${sx},${sy - h}C${c1},${sy - h} ${c2},${ty - h} ${tx},${ty - h}L${tx},${ty + h}C${c2},${ty + h} ${c1},${sy + h} ${sx},${sy + h}Z`;
    const src = p.payload && p.payload.source ? p.payload.source.name : 'A';
    return <path d={d} fill={sankeyColors[src]} fillOpacity={0.55} stroke="none" />;
  };
  return (
    <Sankey width={515} height={494} data={data} nodeWidth={44.5} nodePadding={0} iterations={0} linkCurvature={0.5}
      margin={{ left: 12.7, right: 12.3, top: 39, bottom: 40.7 }} node={node} link={link} />
  );
}

/* ======================= J ======================= */
function boxElements(n: number, half: number, colors: string[], mn: number[], q1: number[], md: number[], q3: number[], mx: number[]) {
  const out: any[] = [];
  for (let i = 0; i < n; i++) {
    const pos = i + 1; const c = colors[i];
    out.push(<ReferenceArea key={`b${i}`} x1={pos - half} x2={pos + half} y1={q1[i]} y2={q3[i]} fill="none" stroke={c} strokeWidth={1} ifOverflow="visible" />);
    out.push(<ReferenceLine key={`m${i}`} segment={[{ x: pos - half, y: md[i] }, { x: pos + half, y: md[i] }]} stroke={c} strokeWidth={1.6} />);
    out.push(<ReferenceLine key={`u${i}`} segment={[{ x: pos, y: q3[i] }, { x: pos, y: mx[i] }]} stroke={c} strokeWidth={1} />);
    out.push(<ReferenceLine key={`l${i}`} segment={[{ x: pos, y: mn[i] }, { x: pos, y: q1[i] }]} stroke={c} strokeWidth={1} />);
  }
  return out;
}
const dot = (color: string) => (p: any) => <circle cx={p.cx} cy={p.cy} r={1.8} fill={color} />;
const bracketLabel = (p: any) => <text x={p.cx} y={p.cy - 2} textAnchor="middle" fontSize={8} fontFamily={FONT} fill="#222">{p.payload.t}</text>;

function PanelJTop() {
  const jit = [jitterA, jitterB, jitterC, jitterD];
  const tk = 0.085;
  return (
    <ComposedChart width={269} height={262} margin={{ top: 70, right: 0.7, bottom: 0, left: 0 }}>
      <XAxis type="number" dataKey="x" domain={[0.4, 4.6]} allowDataOverflow ticks={[1, 2, 3, 4]} interval={0} height={23.7}
        tickSize={3} axisLine={{ stroke: '#111' }} tickLine={{ stroke: '#111' }}
        tick={(p: any) => <text x={p.x} y={250.5} textAnchor="middle" fontSize={9} fontFamily={FONT} fill="#222">{clusterGroups[p.payload.value - 1]}</text>} />
      <YAxis type="number" dataKey="y" domain={[-1.025, 3.167]} allowDataOverflow ticks={[-1, 0, 1, 2, 3]} interval={0} width={45.7}
        tickSize={3} axisLine={{ stroke: '#111' }} tickLine={{ stroke: '#111' }}
        tick={(p: any) => <text x={40} y={p.y + 3} textAnchor="end" fontSize={9} fontFamily={FONT} fill="#222">{mfmt(p.payload.value)}</text>} />
      {boxElements(4, 0.36, clusterColors, clusterMin, clusterQ1, clusterMed, clusterQ3, clusterMax)}
      {jit.map((arr, g) => (
        <Scatter key={`s${g}`} data={arr.map(([dx, v]) => ({ x: g + 1 + dx, y: v }))} isAnimationActive={false} shape={dot(clusterColors[g])} />
      ))}
      {clusterBracketPairs.map(([a, b], i) => (
        <Line key={`br${i}`} data={[{ x: a, y: clusterBracketY[i] - tk }, { x: a, y: clusterBracketY[i] }, { x: b, y: clusterBracketY[i] }, { x: b, y: clusterBracketY[i] - tk }]}
          dataKey="y" type="linear" stroke="#666" strokeWidth={0.9} dot={false} isAnimationActive={false} />
      ))}
      <Scatter data={clusterBracketPairs.map(([a, b], i) => ({ x: (a + b) / 2, y: clusterBracketY[i], t: clusterBracketP[i] }))}
        isAnimationActive={false} shape={bracketLabel} />
    </ComposedChart>
  );
}
function PanelJBottom() {
  const jit = [jitterAlive, jitterDead];
  const tk = 0.08;
  return (
    <ComposedChart width={269} height={234} margin={{ top: 40, right: 0.7, bottom: 0, left: 0 }}>
      <XAxis type="number" dataKey="x" domain={[0.4, 2.6]} allowDataOverflow ticks={[1, 2]} interval={0} height={23.3}
        tickSize={3} axisLine={{ stroke: '#111' }} tickLine={{ stroke: '#111' }}
        tick={(p: any) => <text x={p.x} y={220.5} textAnchor="middle" fontSize={9} fontFamily={FONT} fill="#222">{statusGroups[p.payload.value - 1]}</text>} />
      <YAxis type="number" dataKey="y" domain={[-0.986, 1.711]} allowDataOverflow ticks={[0, 1]} interval={0} width={40.7}
        tickSize={3} axisLine={{ stroke: '#111' }} tickLine={{ stroke: '#111' }}
        tick={(p: any) => <text x={35} y={p.y + 3} textAnchor="end" fontSize={9} fontFamily={FONT} fill="#222">{p.payload.value}</text>} />
      {boxElements(2, 0.35, statusColors, statusMin, statusQ1, statusMed, statusQ3, statusMax)}
      {jit.map((arr, g) => (
        <Scatter key={`s${g}`} data={arr.map(([dx, v]) => ({ x: g + 1 + dx, y: v }))} isAnimationActive={false} shape={dot(statusColors[g])} />
      ))}
      <Line data={[{ x: 1, y: statusBracketY - tk }, { x: 1, y: statusBracketY }, { x: 2, y: statusBracketY }, { x: 2, y: statusBracketY - tk }]}
        dataKey="y" type="linear" stroke="#666" strokeWidth={0.9} dot={false} isAnimationActive={false} />
      <Scatter data={[{ x: 1.5, y: statusBracketY, t: statusBracketP }]} isAnimationActive={false} shape={bracketLabel} />
    </ComposedChart>
  );
}

/* ======================= OVERLAY TEXT ======================= */
const panelLetters = ['A', 'B', 'C', 'D', 'E', 'F', 'G', 'H', 'I', 'J'];
const letterPos = [[0, 52], [603, 52], [1352, 52], [1, 577], [652, 577], [1308, 576], [1, 1150], [567, 1150], [1131, 1150], [1692, 1148]];
const letterSize = [57, 57, 57, 60, 60, 60, 60, 60, 60, 60];

function LegendBoxIcon({ x, y, color }: any) {
  return (
    <g stroke={color} strokeWidth={0.9} fill="#fff">
      <line x1={x + 5} x2={x + 5} y1={y - 6} y2={y + 6} />
      <rect x={x} y={y - 3.5} width={10} height={7} />
      <line x1={x} x2={x + 10} y1={y} y2={y} />
      <circle cx={x + 5} cy={y} r={1.4} fill={color} stroke="none" />
    </g>
  );
}

function Overlay() {
  return (
    <svg width={1959} height={1594} style={{ position: 'absolute', left: 0, top: 0, zIndex: 5, pointerEvents: 'none' }}>
      {panelLetters.map((l, i) => (
        <text key={l} x={letterPos[i][0]} y={letterPos[i][1]} fontSize={letterSize[i]} fontFamily={FONT} fill="#000">{l}</text>
      ))}
      {/* A */}
      <text x={186} y={66} textAnchor="middle" fontSize={19} fontFamily={SERIF}>{vennSets[0]}</text>
      <text x={483} y={66} textAnchor="middle" fontSize={19} fontFamily={SERIF}>{vennSets[1]}</text>
      {/* B */}
      <text x={1179} y={552} textAnchor="middle" fontSize={17} fontFamily={FONT}>Hazard ratio</text>
      {/* C */}
      <text x={1698} y={551} textAnchor="middle" fontSize={15.5} fontFamily={FONT}>Log(λ)</text>
      <VText x={1394} y={265} size={13.5}>Partial Likelihood Deviance</VText>
      {/* D */}
      <text x={346} y={1107} textAnchor="middle" fontSize={14.5} fontFamily={FONT}>Log Lambda</text>
      <VText x={43} y={818} size={13.5}>Coefficients</VText>
      {/* E */}
      <VText x={672} y={762} size={17}>Overall survival</VText>
      <text x={1024} y={938} textAnchor="middle" fontSize={18} fontFamily={FONT} fill="#111">Time(years)</text>
      <text x={788} y={846} fontSize={22} fontFamily={FONT} fill="#111">p&lt;0.001</text>
      <VText x={669.5} y={1007} size={18} fill="#111">Risk</VText>
      <text x={1024} y={1068} textAnchor="middle" fontSize={18} fontFamily={FONT} fill="#111">Time(years)</text>
      <text x={919} y={596} fontSize={14} fontFamily={FONT} fill="#111">Risk</text>
      <rect x={954} y={580} width={23} height={21} fill="#FFB8B8" />
      <line x1={955} x2={976} y1={590.7} y2={590.7} stroke="#FF0000" strokeWidth={2.5} />
      <line x1={965.5} x2={965.5} y1={586} y2={595} stroke="#FF0000" strokeWidth={1.6} />
      <text x={984} y={596} fontSize={14.5} fontFamily={FONT} fill="#111">High risk</text>
      <rect x={1047} y={580} width={23} height={21} fill="#B8B8FF" />
      <line x1={1048} x2={1069} y1={590.7} y2={590.7} stroke="#0000FF" strokeWidth={2.5} />
      <line x1={1058.5} x2={1058.5} y1={586} y2={595} stroke="#0000FF" strokeWidth={1.6} />
      <text x={1077} y={596} fontSize={14.5} fontFamily={FONT} fill="#111">Low risk</text>
      {/* F */}
      <VText x={1344} y={778} size={20}>Sensitivity</VText>
      <text x={1672} y={1083} textAnchor="middle" fontSize={20} fontFamily={FONT}>1{MINUS}Specificity</text>
      {rocLabels.map((t, i) => (
        <g key={t}>
          <line x1={1635.7} x2={1676.3} y1={905.3 + i * 26.3} y2={905.3 + i * 26.3} stroke={rocColors[i]} strokeWidth={3} />
          <text x={1695} y={912 + i * 26.3} fontSize={19} fontFamily={FONT}>{t}</text>
        </g>
      ))}
      {/* G, H */}
      <NText x={476} y={1590} anchor="middle" size={20} sx={0.75}>Hazard ratio</NText>
      <NText x={1036} y={1590} anchor="middle" size={20} sx={0.75}>Hazard ratio</NText>
      {/* I */}
      <text x={1210} y={1592} textAnchor="middle" fontSize={16} fontFamily={FONT} fill="#333">{sankeyAxes[0]}</text>
      <text x={1432.7} y={1592} textAnchor="middle" fontSize={16} fontFamily={FONT} fill="#333">{sankeyAxes[1]}</text>
      <text x={1656.7} y={1592} textAnchor="middle" fontSize={16} fontFamily={FONT} fill="#333">{sankeyAxes[2]}</text>
      {/* J */}
      <text x={1782.7} y={1154} fontSize={8.5} fontFamily={FONT} fill="#222">Cluster</text>
      {clusterGroups.map((g, i) => (
        <g key={g}>
          <LegendBoxIcon x={[1815, 1840.7, 1865, 1892.7][i]} y={1150.7} color={clusterColors[i]} />
          <text x={[1828.5, 1855, 1879.5, 1907][i]} y={1153.5} fontSize={7.5} fontFamily={FONT} fill="#222">{g}</text>
        </g>
      ))}
      <VText x={1718} y={1253} size={8.5} fill="#222">Risk score</VText>
      <text x={1796} y={1384.5} fontSize={8.5} fontFamily={FONT} fill="#222">Status</text>
      <LegendBoxIcon x={1825} y={1381} color={statusColors[0]} />
      <text x={1842.7} y={1384} fontSize={7.5} fontFamily={FONT} fill="#222">{statusGroups[0]}</text>
      <LegendBoxIcon x={1861.7} y={1381} color={statusColors[1]} />
      <text x={1879.3} y={1384} fontSize={7.5} fontFamily={FONT} fill="#222">{statusGroups[1]}</text>
      <VText x={1718} y={1487} size={8.5} fill="#222">Risk score</VText>
    </svg>
  );
}

/* ======================= APP ======================= */
function Pos({ left, top, w, h, children }: any) {
  return <div style={{ position: 'absolute', left, top, width: w, height: h }}>{children}</div>;
}

export default function App() {
  return (
    <div style={{ position: 'absolute', left: 0, top: 0, width: 1959, height: 1594, background: '#fff', overflow: 'hidden', fontFamily: FONT }}>
      <Pos left={0} top={0} w={650} h={530}><PanelA /></Pos>
      <Pos left={640} top={0} w={700} h={560}><PanelB /></Pos>
      <Pos left={1340} top={0} w={619} h={560}><PanelC /></Pos>
      <Pos left={0} top={540} w={600} h={570}><PanelD /></Pos>
      <Pos left={600} top={560} w={710} h={400}><PanelEMain /></Pos>
      <Pos left={600} top={975} w={710} h={110}><PanelERisk /></Pos>
      <Pos left={1310} top={550} w={649} h={550}><PanelF /></Pos>
      <Pos left={0} top={1100} w={595} h={494}>
        <MultiForest p={gP} hr={gHR} lo={gLow} hi={gHigh} color="#1FE81F" width={595} yAxisW={358.6} domMax={8.6} pxPerUnit={27.14}
          ticks={[0, 2, 4, 6, 8]} cols={[50.8, 184.4, 320.6]} />
      </Pos>
      <Pos left={590} top={1100} w={585} h={494}>
        <MultiForest p={hP} hr={hHR} lo={hLow} hi={hHigh} color="#FF0000" width={585} yAxisW={328.3} domMax={6.8} pxPerUnit={34.33}
          ticks={[0, 1, 2, 3, 4, 5, 6]} cols={[17.5, 153, 290]} />
      </Pos>
      <Pos left={1175} top={1100} w={515} h={494}><PanelI /></Pos>
      <Pos left={1690} top={1100} w={269} h={262}><PanelJTop /></Pos>
      <Pos left={1690} top={1360} w={269} h={234}><PanelJBottom /></Pos>
      <Overlay />
    </div>
  );
}
